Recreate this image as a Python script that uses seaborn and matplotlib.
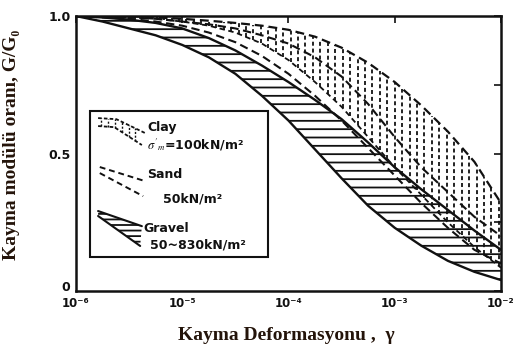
import numpy as np
import pandas as pd
import matplotlib
matplotlib.use("Agg")
import matplotlib.pyplot as plt
import matplotlib.transforms as mtransforms
import seaborn as sns
from matplotlib.patches import Rectangle, Polygon

# ---------------- data ----------------
log_strain = [-6.0, -5.75, -5.5, -5.25, -5.0, -4.75, -4.5, -4.25, -4.0,
              -3.75, -3.5, -3.25, -3.0, -2.75, -2.5, -2.25, -2.0]
clay_upper = [1.0, 1.0, 1.0, 0.995, 0.99, 0.983, 0.975, 0.965, 0.95,
              0.925, 0.885, 0.83, 0.76, 0.675, 0.58, 0.47, 0.32]
clay_lower = [1.0, 1.0, 0.995, 0.99, 0.98, 0.965, 0.94, 0.90, 0.84,
              0.76, 0.67, 0.56, 0.45, 0.35, 0.25, 0.16, 0.085]
sand_upper = [1.0, 1.0, 0.995, 0.99, 0.98, 0.97, 0.955, 0.93, 0.90,
              0.85, 0.78, 0.68, 0.56, 0.45, 0.36, 0.27, 0.20]
sand_lower = [1.0, 0.995, 0.99, 0.98, 0.965, 0.94, 0.905, 0.855, 0.79,
              0.71, 0.62, 0.52, 0.42, 0.32, 0.23, 0.15, 0.10]
gravel_upper = [1.0, 0.995, 0.987, 0.975, 0.955, 0.92, 0.875, 0.82, 0.76,
                0.695, 0.625, 0.54, 0.45, 0.37, 0.295, 0.22, 0.15]
gravel_lower = [1.0, 0.98, 0.955, 0.93, 0.895, 0.85, 0.79, 0.71, 0.62,
                0.515, 0.41, 0.31, 0.23, 0.165, 0.11, 0.07, 0.04]

x_ticks = [1e-6, 1e-5, 1e-4, 1e-3, 1e-2]
x_ticklabels = ["10⁻⁶", "10⁻⁵", "10⁻⁴", "10⁻³", "10⁻²"]
y_ticks = [0.0, 0.5, 1.0]
y_ticklabels = ["0", "0.5", "1.0"]

strain = 10.0 ** np.array(log_strain)
df = pd.DataFrame({"strain": strain,
                   "clay_upper": clay_upper, "clay_lower": clay_lower,
                   "sand_upper": sand_upper, "sand_lower": sand_lower,
                   "gravel_upper": gravel_upper, "gravel_lower": gravel_lower})

# ---------------- style ----------------
sns.set_style("white")
plt.rcParams["mathtext.fontset"] = "stix"
plt.rcParams["hatch.linewidth"] = 1.3
plt.rcParams["font.family"] = ["DejaVu Sans"]
INK = "#111111"
LABEL = "#24140a"

fig = plt.figure(figsize=(5.17, 3.49), dpi=100)
ax = fig.add_axes([0.147, 0.166, 0.822, 0.788])
ax.set_xscale("log")

# clay region: vertical dashed hatching between its bounds
xs_log = np.arange(-5.45, -2.0, 0.07)
lo = np.interp(xs_log, log_strain, clay_lower)
hi = np.interp(xs_log, log_strain, clay_upper)
ax.vlines(10.0 ** xs_log, lo, hi, colors=INK, linewidth=1.3,
          linestyles=[(0, (2.2, 1.6))], zorder=2)

# gravel region: horizontal hatch
ax.fill_between(df["strain"], df["gravel_lower"], df["gravel_upper"],
                facecolor="none", edgecolor=INK, hatch="--", linewidth=0, zorder=2)

# boundary curves
dash = (0, (4, 2.2))
sns.lineplot(data=df, x="strain", y="clay_upper", ax=ax, color=INK, lw=1.6, linestyle=dash)
sns.lineplot(data=df, x="strain", y="clay_lower", ax=ax, color=INK, lw=1.3, linestyle=(0, (3, 2)))
sns.lineplot(data=df, x="strain", y="sand_upper", ax=ax, color=INK, lw=1.5, linestyle=dash)
sns.lineplot(data=df, x="strain", y="sand_lower", ax=ax, color=INK, lw=1.5, linestyle=dash)
sns.lineplot(data=df, x="strain", y="gravel_upper", ax=ax, color=INK, lw=1.7)
sns.lineplot(data=df, x="strain", y="gravel_lower", ax=ax, color=INK, lw=1.7)

# axes
ax.set_xlim(1e-6, 1e-2)
ax.set_ylim(0, 1.0)
ax.set_xticks(x_ticks)
ax.set_xticklabels(x_ticklabels, fontsize=8.5, fontweight="bold", color=INK)
ax.xaxis.set_minor_locator(matplotlib.ticker.NullLocator())
ax.set_yticks(y_ticks)
ax.set_yticklabels(y_ticklabels, fontsize=9, fontweight="bold", color=INK)
ax.set_yticks([0.25, 0.75], minor=True)
ax.tick_params(which="both", direction="in", top=True, right=True,
               length=5, width=1.2, color=INK)
ax.tick_params(axis="x", pad=4)
ax.tick_params(axis="y", pad=4)
for s in ax.spines.values():
    s.set_linewidth(1.8)
    s.set_color(INK)
ax.grid(False)

# lift the "0" label a little so it clears the 10^-6 label
zero_lab = ax.get_yticklabels()[0]
zero_lab.set_transform(zero_lab.get_transform() +
                       mtransforms.ScaledTranslation(0, 4 / 72, fig.dpi_scale_trans))

ax.set_xlabel("Kayma Deformasyonu ,  γ", fontsize=14, fontweight="bold",
              family=["Liberation Serif", "DejaVu Serif"], color=LABEL)
ax.set_ylabel("Kayma modülü oranı, G/G₀", fontsize=14, fontweight="bold",
              family=["Liberation Serif", "DejaVu Serif"], color=LABEL)
ax.xaxis.set_label_coords(0.494, -0.13)
ax.yaxis.set_label_coords(-0.132, 0.53)

# ---------------- legend box (axes fraction) ----------------
T = ax.transAxes
ax.add_patch(Rectangle((0.033, 0.124), 0.419, 0.531, transform=T, fill=True,
                       facecolor="white", edgecolor=INK, linewidth=1.5, zorder=5))

# clay symbol
ax.plot([0.052, 0.095, 0.162], [0.629, 0.625, 0.575], transform=T, color=INK,
        lw=1.3, ls=(0, (2, 1.2)), zorder=6)
ax.plot([0.052, 0.090, 0.155], [0.600, 0.596, 0.531], transform=T, color=INK,
        lw=1.3, ls=(0, (2, 1.2)), zorder=6)
for xv in np.arange(0.060, 0.155, 0.016):
    yt = np.interp(xv, [0.052, 0.095, 0.162], [0.629, 0.625, 0.575])
    yb = np.interp(xv, [0.052, 0.090, 0.155], [0.600, 0.596, 0.531])
    ax.plot([xv, xv], [yb, yt], transform=T, color=INK, lw=1.0,
            ls=(0, (1.5, 1.2)), zorder=6)
ax.text(0.167, 0.593, "Clay", transform=T, fontsize=9, fontweight="bold",
        va="center", ha="left", color=INK, zorder=7)
ax.text(0.167, 0.532, r"$\sigma'_{m}$=100kN/m²", transform=T, fontsize=9,
        fontweight="bold", va="center", ha="left", color=INK, zorder=7)

# sand symbol
ax.plot([0.056, 0.162], [0.451, 0.400], transform=T, color=INK, lw=1.4,
        ls=(0, (3, 2)), zorder=6)
ax.plot([0.056, 0.158], [0.429, 0.345], transform=T, color=INK, lw=1.4,
        ls=(0, (3, 2)), zorder=6)
ax.text(0.167, 0.425, "Sand", transform=T, fontsize=9, fontweight="bold",
        va="center", ha="left", color=INK, zorder=7)
ax.text(0.205, 0.335, "50kN/m²", transform=T, fontsize=9, fontweight="bold",
        va="center", ha="left", color=INK, zorder=7)

# gravel symbol
ax.add_patch(Polygon([[0.052, 0.291], [0.155, 0.236], [0.151, 0.164], [0.052, 0.273]],
                     closed=True, transform=T, facecolor="none", edgecolor=INK,
                     hatch="---", linewidth=0, zorder=6))
ax.plot([0.052, 0.155], [0.291, 0.236], transform=T, color=INK, lw=1.5, zorder=6)
ax.plot([0.052, 0.151], [0.273, 0.164], transform=T, color=INK, lw=1.5, zorder=6)
ax.text(0.158, 0.229, "Gravel", transform=T, fontsize=9, fontweight="bold",
        va="center", ha="left", color=INK, zorder=7)
ax.text(0.174, 0.167, "50~830kN/m²", transform=T, fontsize=9, fontweight="bold",
        va="center", ha="left", color=INK, zorder=7)

fig.savefig("out.png", dpi=100)
